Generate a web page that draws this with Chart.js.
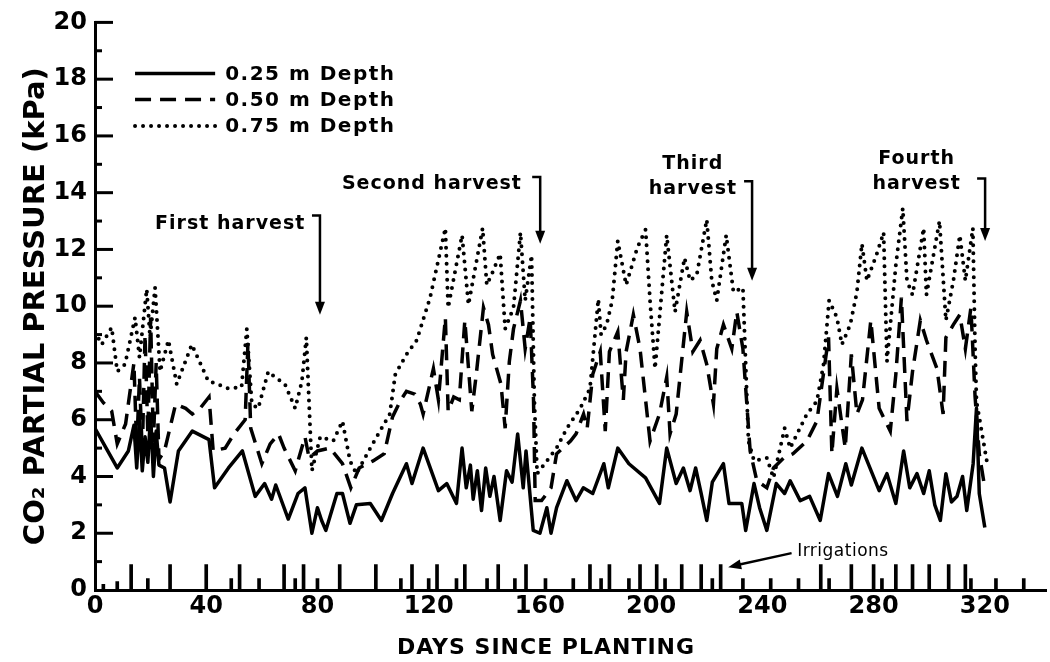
<!DOCTYPE html>
<html>
<head>
<meta charset="utf-8">
<script src="https://cdn.jsdelivr.net/npm/chart.js@4.4.1/dist/chart.umd.min.js"></script>
<style>
  html, body { margin: 0; padding: 0; background: #fff; }
  canvas { display: block; }
</style>
</head>
<body>
<canvas id="co2Chart" width="1050" height="662"></canvas>
<script>
// days since planting and CO2 partial pressure (kPa)
const days25 = [0, 4, 8, 12, 14, 15, 16, 17, 18, 19, 20, 21, 22, 23, 25, 27, 30, 35, 41, 43, 48, 53, 57.6, 61, 63.5, 65, 69.5, 73, 75.5, 78, 80, 81.5, 83, 87, 89, 91.7, 94, 99, 103, 107, 112, 114, 118, 123.5, 126.5, 130, 132, 133.5, 135, 136, 137.5, 139, 140.5, 142, 143.5, 145.7, 148, 150, 152, 154, 155, 157.6, 160, 162.5, 164, 166, 169.7, 173, 175.6, 179, 183, 184.6, 188, 192, 198, 203, 205.6, 209, 211.6, 214, 216, 218, 220, 222, 226, 228, 232.6, 234, 237, 239, 241.6, 245, 248, 250, 253.6, 257, 260.8, 263.8, 267, 270, 272, 275.8, 282, 284.8, 288, 290.8, 293, 295.6, 298, 300, 302, 304, 306, 308, 310, 312, 313.5, 315.8, 317, 318, 320];
const co2_25 = [5.7, 5.0, 4.3, 4.9, 5.8, 4.3, 6.0, 4.2, 5.4, 4.5, 6.2, 4.0, 5.6, 4.4, 4.3, 3.1, 4.9, 5.6, 5.3, 3.6, 4.3, 4.9, 3.3, 3.75, 3.2, 3.7, 2.5, 3.4, 3.6, 2.0, 2.9, 2.45, 2.1, 3.4, 3.4, 2.35, 3.0, 3.05, 2.45, 3.4, 4.45, 3.75, 5.0, 3.5, 3.75, 3.05, 5.0, 3.6, 4.4, 3.2, 4.2, 2.8, 4.3, 3.3, 4.0, 2.45, 4.2, 3.8, 5.5, 3.6, 4.9, 2.1, 2.0, 2.9, 2.0, 2.9, 3.85, 3.15, 3.6, 3.4, 4.45, 3.6, 5.0, 4.45, 3.95, 3.05, 5.0, 3.75, 4.3, 3.5, 4.3, 3.4, 2.45, 3.8, 4.45, 3.05, 3.05, 2.1, 3.75, 2.9, 2.1, 3.75, 3.4, 3.85, 3.15, 3.3, 2.45, 4.1, 3.3, 4.45, 3.7, 5.0, 3.5, 4.1, 3.05, 4.9, 3.6, 4.1, 3.4, 4.2, 3.0, 2.45, 4.1, 3.1, 3.3, 4.0, 2.8, 4.45, 6.4, 3.4, 2.2];

const days50 = [0, 3, 6, 8, 11, 14, 15, 16, 17, 18, 19, 20, 21, 22, 23, 25, 29, 32.6, 35, 37.8, 41, 42.5, 46.8, 50, 54, 55, 56, 60, 63, 66, 68, 72, 75.5, 77, 80, 84.5, 89, 92, 95, 100, 104, 107, 110, 112, 115, 117, 118, 121.7, 123.5, 126, 127, 129, 131, 133, 135.5, 137, 139.7, 141.5, 143, 146, 147.5, 149, 150.5, 153, 154.7, 156.5, 157.7, 158.3, 160.6, 162.5, 164, 166, 171, 173, 175.7, 177, 179, 181.7, 183.5, 185, 188, 190, 191, 193.6, 196, 198, 199.6, 203, 205.6, 206.8, 209, 212.8, 215, 217.6, 220, 222.4, 223.6, 226, 229, 230.8, 233, 235.6, 238, 241.6, 244, 247.6, 251, 256, 259.6, 263.8, 265, 266.8, 269.8, 272, 274, 276, 279, 282, 286, 288, 290, 292, 294, 296.8, 299, 302.8, 305, 306, 308.7, 311, 313, 315, 316.5, 318, 320];
const co2_50 = [7.0, 6.6, 6.3, 5.15, 5.85, 8.0, 5.0, 7.5, 4.8, 9.0, 5.5, 9.6, 5.2, 8.0, 4.6, 4.9, 6.55, 6.4, 6.2, 6.4, 6.8, 4.9, 5.0, 5.5, 6.0, 8.7, 5.7, 4.45, 5.15, 5.5, 5.0, 4.2, 5.4, 4.65, 4.9, 5.0, 4.45, 3.6, 4.3, 4.55, 4.8, 6.1, 6.7, 7.0, 6.9, 6.55, 6.2, 7.8, 6.7, 9.6, 6.3, 6.8, 6.7, 9.5, 6.3, 7.5, 9.95, 9.35, 8.3, 7.25, 5.7, 8.05, 9.2, 10.2, 8.5, 9.6, 6.7, 3.15, 3.15, 3.4, 3.6, 4.8, 5.25, 5.5, 6.2, 5.7, 7.6, 8.4, 5.6, 8.4, 9.1, 6.7, 8.4, 9.7, 8.5, 6.7, 5.25, 6.2, 7.5, 5.5, 6.2, 9.8, 8.4, 8.8, 7.95, 6.55, 8.5, 9.35, 8.5, 9.8, 8.5, 4.9, 3.85, 3.6, 4.3, 4.65, 4.8, 5.25, 5.95, 8.9, 4.8, 7.1, 5.0, 8.3, 6.2, 6.7, 9.5, 6.4, 5.6, 7.6, 10.3, 5.95, 7.7, 9.5, 8.8, 7.8, 6.2, 8.9, 9.35, 9.7, 8.5, 9.95, 6.8, 4.8, 3.6];

const days75 = [0, 2.4, 6, 8, 10.8, 14.4, 16, 18.6, 19.8, 21.6, 23.4, 26.4, 29.4, 34.8, 40.8, 43, 48, 52.7, 54.6, 56.4, 58.7, 62.3, 64.7, 68.3, 72, 74.4, 76, 78, 81, 85.7, 89, 91.7, 94, 99, 102.5, 106, 108, 112, 115.7, 120.5, 126, 127, 132, 134.3, 139.4, 140.9, 143, 145.7, 147.5, 150.5, 153, 154.7, 157, 158, 159, 162.5, 166, 169.7, 174.5, 178, 181, 182, 184, 186, 188, 191, 195, 198, 199.6, 201.4, 205.6, 208.6, 212, 214, 216.4, 220, 221.8, 223.6, 227, 229.6, 233, 235, 237, 241.6, 244, 248, 250, 256, 259.6, 262, 264, 266.8, 268.6, 271.6, 274, 275.8, 277.6, 281, 283.6, 284.8, 288, 290.5, 292, 294, 298, 299, 303.7, 306, 308.7, 311, 313, 315.7, 316.5, 317, 320.7];
const co2_75 = [9.1, 8.65, 9.25, 7.7, 7.95, 9.6, 8.2, 10.6, 8.9, 10.65, 7.7, 8.8, 7.25, 8.65, 7.35, 7.3, 7.1, 7.15, 9.2, 6.55, 6.4, 7.7, 7.5, 7.25, 6.4, 7.35, 8.9, 4.2, 5.4, 5.25, 5.95, 4.55, 4.1, 5.0, 5.6, 6.2, 7.6, 8.3, 8.8, 10.3, 12.75, 9.95, 12.5, 10.05, 12.75, 10.75, 11.2, 11.85, 9.2, 9.95, 12.6, 10.2, 11.8, 6.7, 4.1, 4.55, 5.0, 5.7, 6.4, 7.1, 10.25, 9.0, 9.35, 10.2, 12.3, 10.75, 12.05, 12.7, 10.2, 7.8, 12.5, 9.8, 11.7, 10.9, 11.1, 13.05, 10.9, 10.2, 12.5, 10.5, 10.65, 5.25, 4.55, 4.65, 3.95, 5.7, 5.0, 6.2, 6.65, 7.95, 10.2, 9.6, 8.65, 9.35, 10.5, 12.2, 10.9, 11.8, 12.6, 8.05, 11.45, 13.45, 10.9, 10.4, 12.75, 10.4, 13.0, 9.5, 10.9, 12.5, 10.9, 12.75, 8.5, 6.65, 4.55];

// irrigation days and bar heights (kPa units on the plot)
const irrigDays = [3, 8, 13, 19, 27, 40, 49, 52, 59, 68, 72, 75, 80, 88, 101, 110, 114, 120, 123, 130, 133, 141, 145, 151, 155, 162, 172, 178, 182, 185, 192, 196, 202, 205, 211, 218, 222, 225, 233, 243, 253, 261, 264, 272, 280, 283, 288, 294, 300, 307, 313, 315, 324, 334];
const irrigHeights = [0.2, 0.3, 0.9, 0.4, 0.9, 0.9, 0.4, 0.9, 0.4, 0.9, 0.4, 0.9, 0.4, 0.9, 0.9, 0.4, 0.9, 0.4, 0.9, 0.4, 0.9, 0.4, 0.9, 0.4, 0.9, 0.4, 0.4, 0.9, 0.4, 0.9, 0.4, 0.9, 0.9, 0.4, 0.9, 0.9, 0.4, 0.9, 0.4, 0.4, 0.4, 0.9, 0.4, 0.9, 0.9, 0.4, 0.9, 0.9, 0.9, 0.9, 0.9, 0.4, 0.4, 0.4];

const xTicks = [0, 40, 80, 120, 160, 200, 240, 280, 320];
const yTicks = [0, 2, 4, 6, 8, 10, 12, 14, 16, 18, 20];
const seriesLabels = ['0.25 m Depth', '0.50 m Depth', '0.75 m Depth'];

const harvests = [
  { lines: ['First harvest'], textX: 21.6, textY: 12.9, align: 'left', cornerX: 80.9, cornerY: 13.2, tipY: 9.7 },
  { lines: ['Second harvest'], textX: 88.8, textY: 14.3, align: 'left', cornerX: 160.1, cornerY: 14.55, tipY: 12.2 },
  { lines: ['Third', 'harvest'], textX: 215, textY: 15.0, align: 'center', cornerX: 236.3, cornerY: 14.4, tipY: 10.9 },
  { lines: ['Fourth', 'harvest'], textX: 295.5, textY: 15.2, align: 'center', cornerX: 320.1, cornerY: 14.5, tipY: 12.3 },
];

const BLACK = '#000';
const tickFont = { family: 'DejaVu Sans', size: 24, weight: 'bold' };
const noteFont = 'bold 19px "DejaVu Sans"';

const toPoints = (xs, ys) => xs.map((x, i) => ({ x: x, y: ys[i] }));

const lineStyles = [
  { borderDash: [], borderWidth: 3.5 },
  { borderDash: [16, 9], borderWidth: 3.5 },
  { borderDash: [0, 8], borderWidth: 4, borderCapStyle: 'round' },
];

function drawArrowHead(ctx, x, y, dx, dy) {
  // triangle pointing in direction (dx, dy) with tip at x,y
  const len = Math.hypot(dx, dy);
  const ux = dx / len, uy = dy / len;
  const size = 13, half = 5;
  ctx.beginPath();
  ctx.moveTo(x, y);
  ctx.lineTo(x - ux * size - uy * half, y - uy * size + ux * half);
  ctx.lineTo(x - ux * size + uy * half, y - uy * size - ux * half);
  ctx.closePath();
  ctx.fill();
}

const figureExtras = {
  id: 'figureExtras',
  afterDraw(chart) {
    const ctx = chart.ctx;
    const xs = chart.scales.x;
    const ys = chart.scales.y;
    const left = chart.chartArea.left;
    ctx.save();
    ctx.strokeStyle = BLACK;
    ctx.fillStyle = BLACK;

    // inward tick marks on the y axis, long at labelled values
    ctx.lineWidth = 3;
    for (let v = 1; v <= 20; v++) {
      const py = ys.getPixelForValue(v);
      const len = v % 2 === 0 ? 18 : 7;
      ctx.beginPath();
      ctx.moveTo(left, py);
      ctx.lineTo(left + len, py);
      ctx.stroke();
    }

    // legend
    const legendY = [18.2, 17.28, 16.35];
    ctx.font = 'bold 20px "DejaVu Sans"';
    ctx.letterSpacing = '1.5px';
    ctx.textBaseline = 'middle';
    ctx.textAlign = 'left';
    legendY.forEach((v, i) => {
      const py = ys.getPixelForValue(v);
      const st = lineStyles[i];
      ctx.setLineDash(st.borderDash);
      ctx.lineWidth = st.borderWidth;
      ctx.lineCap = st.borderCapStyle || 'butt';
      ctx.beginPath();
      ctx.moveTo(xs.getPixelForValue(14.4), py);
      ctx.lineTo(xs.getPixelForValue(43.2), py);
      ctx.stroke();
      ctx.setLineDash([]);
      ctx.lineCap = 'butt';
      ctx.fillText(seriesLabels[i], xs.getPixelForValue(46.8), py + 1);
    });

    // harvest notes with bent arrows
    ctx.font = noteFont;
    ctx.letterSpacing = '1px';
    ctx.lineWidth = 2.5;
    harvests.forEach(h => {
      ctx.textAlign = h.align;
      h.lines.forEach((t, k) => {
        ctx.fillText(t, xs.getPixelForValue(h.textX), ys.getPixelForValue(h.textY) + k * 25);
      });
      const cx = xs.getPixelForValue(h.cornerX);
      const cy = ys.getPixelForValue(h.cornerY);
      const ty = ys.getPixelForValue(h.tipY);
      ctx.beginPath();
      ctx.moveTo(cx - 8, cy);
      ctx.lineTo(cx, cy);
      ctx.lineTo(cx, ty - 10);
      ctx.stroke();
      drawArrowHead(ctx, cx, ty, 0, 1);
    });

    // irrigation note
    ctx.font = '17px "DejaVu Sans"';
    ctx.letterSpacing = '0.5px';
    ctx.textAlign = 'left';
    ctx.fillText('Irrigations', xs.getPixelForValue(252.5), ys.getPixelForValue(1.37));
    const ax0 = xs.getPixelForValue(250.5), ay0 = ys.getPixelForValue(1.3);
    const ax1 = xs.getPixelForValue(227.7), ay1 = ys.getPixelForValue(0.8);
    ctx.beginPath();
    ctx.moveTo(ax0, ay0);
    ctx.lineTo(ax1 + 8, ay1 - 2);
    ctx.stroke();
    drawArrowHead(ctx, ax1, ay1, ax1 - ax0, ay1 - ay0);

    // x axis title
    ctx.font = 'bold 22px "DejaVu Sans"';
    ctx.letterSpacing = '1px';
    ctx.textAlign = 'center';
    ctx.fillText('DAYS SINCE PLANTING', 546, 648);
    ctx.restore();
  }
};

const co2Canvas = document.getElementById('co2Chart');

const co2Chart = new Chart(co2Canvas, {
  type: 'line',
  data: {
    datasets: [
      {
        label: seriesLabels[0],
        data: toPoints(days25, co2_25),
        borderColor: BLACK,
        borderWidth: lineStyles[0].borderWidth,
        borderJoinStyle: 'round',
        pointRadius: 0,
        tension: 0,
      },
      {
        label: seriesLabels[1],
        data: toPoints(days50, co2_50),
        borderColor: BLACK,
        borderWidth: lineStyles[1].borderWidth,
        borderDash: lineStyles[1].borderDash,
        pointRadius: 0,
        tension: 0,
      },
      {
        label: seriesLabels[2],
        data: toPoints(days75, co2_75),
        borderColor: BLACK,
        borderWidth: lineStyles[2].borderWidth,
        borderDash: lineStyles[2].borderDash,
        borderCapStyle: 'round',
        pointRadius: 0,
        tension: 0,
      },
      {
        type: 'bar',
        label: 'Irrigations',
        data: toPoints(irrigDays, irrigHeights),
        backgroundColor: BLACK,
        barThickness: 3,
        grouped: false,
      },
    ],
  },
  options: {
    responsive: false,
    animation: false,
    layout: { padding: { top: 20, right: 4, left: 0, bottom: 0 } },
    plugins: {
      legend: { display: false },
      tooltip: { enabled: false },
    },
    scales: {
      x: {
        type: 'linear',
        min: 0,
        max: 342,
        offset: false,
        grid: { display: false, drawTicks: false },
        border: { display: true, color: BLACK, width: 3 },
        ticks: { color: BLACK, font: tickFont, padding: 2, maxRotation: 0 },
        afterBuildTicks: s => { s.ticks = xTicks.map(v => ({ value: v })); },
        afterFit: s => { s.height = 72; },
      },
      y: {
        min: 0,
        max: 20,
        grid: { display: false, drawTicks: false },
        border: { display: true, color: BLACK, width: 3 },
        ticks: { color: BLACK, font: tickFont, padding: 8 },
        afterBuildTicks: s => { s.ticks = yTicks.map(v => ({ value: v })); },
        title: {
          display: true,
          text: 'CO\u2082 PARTIAL PRESSURE (kPa)',
          color: BLACK,
          font: { family: 'DejaVu Sans', size: 29, weight: 'bold' },
          padding: { top: 19, bottom: 4 },
        },
        afterFit: s => { s.width = 95; },
      },
    },
  },
  plugins: [figureExtras],
});
</script>
</body>
</html>
